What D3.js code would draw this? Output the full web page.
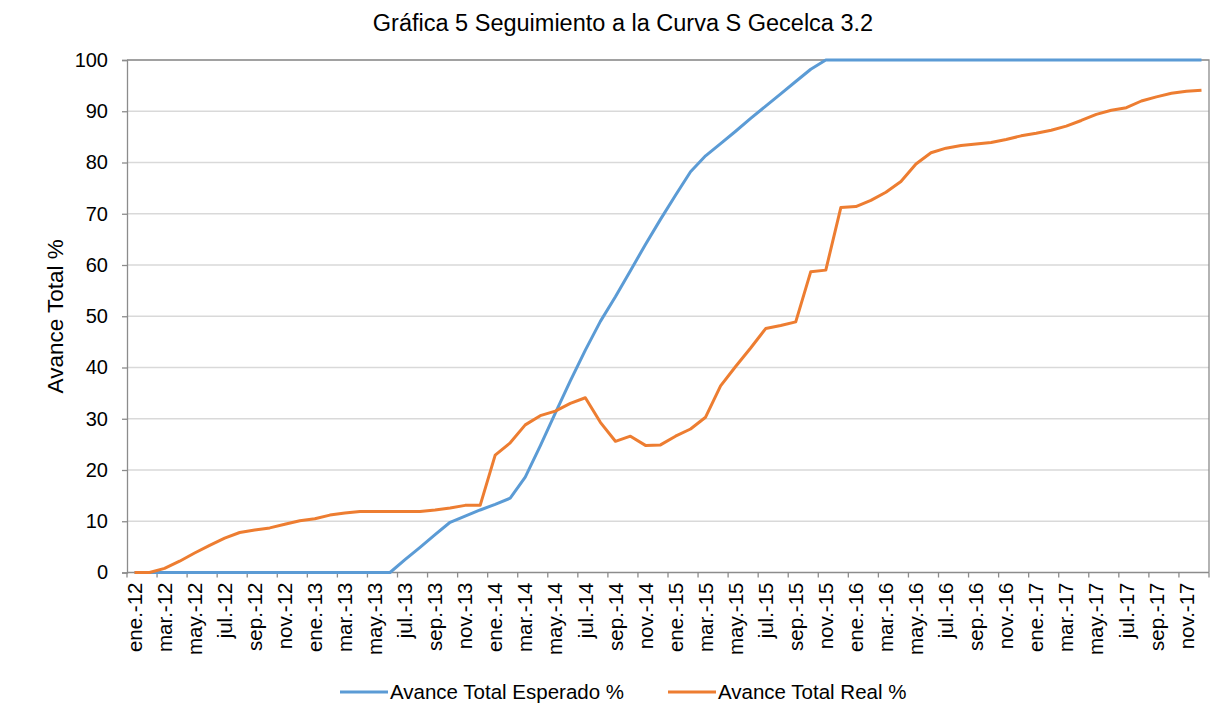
<!DOCTYPE html>
<html>
<head>
<meta charset="utf-8">
<script src="https://cdn.jsdelivr.net/npm/d3@7"></script>
<style>
  body { margin: 0; background: #fff; }
  text { font-family: "Liberation Sans", Arial, sans-serif; fill: #000; }
</style>
</head>
<body>
<div id="plot"></div>
<script>
// Data
var monthNames = ["ene.", "feb.", "mar.", "abr.", "may.", "jun.", "jul.", "ago.", "sep.", "oct.", "nov.", "dic."];
var years = ["12", "13", "14", "15", "16", "17"];
var categories = [];
years.forEach(function(y) { monthNames.forEach(function(m) { categories.push(m + "-" + y); }); });

var esperado = [0, 0, 0, 0, 0, 0, 0, 0, 0, 0, 0, 0, 0, 0, 0, 0, 0, 0,
  2.5, 4.9, 7.4, 9.8, 11.0, 12.2, 13.3, 14.5, 18.6, 24.7, 31.1, 37.4, 43.4, 49.0,
  53.8, 58.9, 64.0, 68.9, 73.6, 78.2, 81.3, 83.7, 86.1, 88.6, 91.0, 93.4, 95.8, 98.2,
  100, 100, 100, 100, 100, 100, 100, 100, 100, 100, 100, 100, 100, 100, 100, 100,
  100, 100, 100, 100, 100, 100, 100, 100, 100, 100];

var real = [0, 0, 0.8, 2.2, 3.8, 5.3, 6.7, 7.8, 8.3, 8.7,
  9.4, 10.1, 10.5, 11.2, 11.6, 11.9, 11.9, 11.9, 11.9, 11.9,
  12.2, 12.6, 13.1, 13.1, 22.9, 25.3, 28.8, 30.6, 31.5, 33.0,
  34.1, 29.3, 25.6, 26.6, 24.8, 24.9, 26.6, 28.0, 30.3, 36.4,
  40.2, 43.8, 47.6, 48.2, 48.9, 58.7, 59.0, 71.2, 71.4, 72.6,
  74.2, 76.3, 79.7, 81.9, 82.8, 83.3, 83.6, 83.9, 84.5, 85.2,
  85.7, 86.3, 87.1, 88.2, 89.4, 90.2, 90.7, 92.0, 92.8, 93.5, 93.9, 94.1];

var yTicks = [0, 10, 20, 30, 40, 50, 60, 70, 80, 90, 100];
var seriesNames = ["Avance Total Esperado %", "Avance Total Real %"];
var seriesColors = ["#5b9bd5", "#ed7d31"];

// Dimensions (plot area)
var W = 1220, H = 706;
var pLeft = 127, pRight = 1209, pTop = 60, pBottom = 572.5;

var svg = d3.select("#plot")
  .append("svg")
    .attr("width", W)
    .attr("height", H);

// Scales
var x = d3.scaleBand()
  .domain(categories)
  .range([pLeft, pRight])
  .padding(0);
var bw = x.bandwidth();
var cx = function(i) { return x(categories[i]) + bw / 2; };

var y = d3.scaleLinear()
  .domain([0, 100])
  .range([pBottom, pTop]);

// Gridlines
svg.append("g")
  .selectAll("line")
  .data(yTicks.filter(function(d) { return d > 0; }))
  .enter().append("line")
    .attr("x1", pLeft).attr("x2", pRight)
    .attr("y1", function(d) { return y(d); })
    .attr("y2", function(d) { return y(d); })
    .attr("stroke", "#d9d9d9")
    .attr("stroke-width", 1.3);

// Plot border (top and right)
svg.append("path")
  .attr("d", "M" + pLeft + "," + pTop + "H" + pRight + "V" + pBottom)
  .attr("fill", "none")
  .attr("stroke", "#8c8c8c")
  .attr("stroke-width", 1.3);

// Y axis
var yAxis = svg.append("g")
  .attr("transform", "translate(" + pLeft + ",0)")
  .call(d3.axisLeft(y).tickValues(yTicks).tickSize(5).tickPadding(14));
yAxis.select(".domain").attr("stroke", "#8c8c8c").attr("stroke-width", 1.3);
yAxis.selectAll(".tick line").attr("stroke", "#8c8c8c").attr("stroke-width", 1.3);
yAxis.selectAll("text")
  .style("font-size", "20px")
  .style("font-family", "Liberation Sans, Arial, sans-serif")
  .attr("fill", "#000");

// X axis: ticks at every second category boundary, labels on category centres
var xg = svg.append("g");
xg.append("line")
  .attr("x1", pLeft).attr("x2", pRight)
  .attr("y1", pBottom).attr("y2", pBottom)
  .attr("stroke", "#8c8c8c")
  .attr("stroke-width", 1.3);
var tickCats = categories.filter(function(d, i) { return i % 2 === 0; });
xg.selectAll(".xt")
  .data(tickCats.concat(["end"]))
  .enter().append("line")
    .attr("x1", function(d) { return d === "end" ? pRight : x(d); })
    .attr("x2", function(d) { return d === "end" ? pRight : x(d); })
    .attr("y1", pBottom).attr("y2", pBottom + 5)
    .attr("stroke", "#8c8c8c")
    .attr("stroke-width", 1.3);
xg.selectAll(".xl")
  .data(tickCats)
  .enter().append("text")
    .attr("transform", function(d) { return "translate(" + (x(d) + bw / 2) + "," + (pBottom + 10) + ") rotate(-90)"; })
    .attr("dy", "0.35em")
    .style("text-anchor", "end")
    .style("font-size", "20.5px")
    .text(function(d) { return d; });

// Lines
var line = d3.line()
  .x(function(d, i) { return cx(i); })
  .y(function(d) { return y(d); });

[esperado, real].forEach(function(s, k) {
  svg.append("path")
    .datum(s)
    .attr("fill", "none")
    .attr("stroke", seriesColors[k])
    .attr("stroke-width", 3)
    .attr("stroke-linejoin", "round")
    .attr("d", line);
});

// Title
svg.append("text")
  .attr("x", 623)
  .attr("y", 31)
  .style("text-anchor", "middle")
  .style("font-size", "23.5px")
  .text("Gráfica 5 Seguimiento a la Curva S Gecelca 3.2");

// Y axis title
svg.append("text")
  .attr("transform", "translate(63," + ((pTop + pBottom) / 2) + ") rotate(-90)")
  .style("text-anchor", "middle")
  .style("font-size", "22.5px")
  .text("Avance Total %");

// Legend
var legendX = [340, 668];
var lg = svg.append("g");
seriesNames.forEach(function(name, k) {
  lg.append("line")
    .attr("x1", legendX[k]).attr("x2", legendX[k] + 48)
    .attr("y1", 692).attr("y2", 692)
    .attr("stroke", seriesColors[k])
    .attr("stroke-width", 3);
  lg.append("text")
    .attr("x", legendX[k] + 50)
    .attr("y", 692)
    .attr("dy", "0.35em")
    .style("font-size", "20.5px")
    .text(name);
});
</script>
</body>
</html>
